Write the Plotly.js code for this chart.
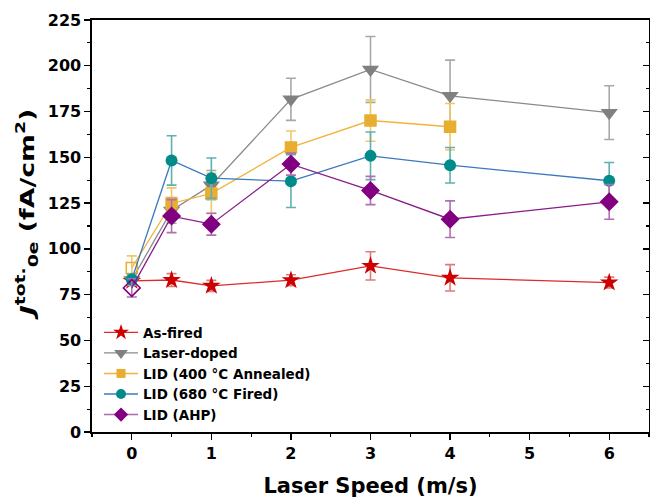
<!DOCTYPE html>
<html>
<head>
<meta charset="utf-8">
<script src="https://cdn.plot.ly/plotly-3.0.1.min.js"></script>
<style>html,body{margin:0;padding:0;background:#fff;}#chart{width:650px;height:498px;}</style>
</head>
<body>
<div id="chart"></div>
<script>
// Laser speed (m/s)
const speeds = [0, 0.5, 1, 2, 3, 4, 6];
// J0e tot. (fA/cm2) per series, and error bars
const asFired      = [82.5, 83.0, 79.8, 82.9, 90.7, 84.2, 81.6];
const asFiredErr   = [2.0, 3.5, 3.0, 3.0, 7.7, 7.2, 3.0];
const laserDoped   = [83.0, 121.0, 134.8, 181.7, 198.0, 183.6, 174.4];
const laserDopedErr= [3.0, 7.0, 8.0, 11.5, 18.0, 19.5, 14.7];
const lid400       = [89.6, 124.8, 130.3, 155.4, 170.1, 166.7, null];
const lid400Err    = [6.6, 8.5, 11.0, 9.0, 11.3, 12.7, null];
const lid680       = [83.3, 148.3, 138.6, 137.0, 150.8, 145.7, 137.2];
const lid680Err    = [3.0, 13.5, 11.0, 14.4, 13.0, 9.7, 10.0];
const lidAHP       = [78.7, 117.9, 113.5, 146.3, 131.9, 116.2, 125.7];
const lidAHPErr    = [5.0, 9.0, 6.0, 6.0, 7.7, 10.0, 9.5];
const seriesNames  = ["As-fired", "Laser-doped", "LID (400 °C Annealed)", "LID (680 °C Fired)", "LID (AHP)"];

const FONT = "DejaVu Sans";

const styles = [
  {line: '#dd2a2a', marker: '#cc0000', err: '#e07a7a', symbol: 'star', size: 14, legSize: 12, first: null},
  {line: '#8a8a8a', marker: '#808080', err: '#a8a8a8', symbol: 'triangle-down', size: 15, legSize: 12, first: null},
  {line: '#f0b43c', marker: '#e8ae30', err: '#f0c868', symbol: 'square', size: 11, legSize: 9, first: 'square-open'},
  {line: '#3a78c0', marker: '#008b8b', err: '#5fb0b0', symbol: 'circle', size: 12, legSize: 10, first: null},
  {line: '#b068b0', marker: '#800080', err: '#b070b0', symbol: 'diamond', size: 13, legSize: 11, first: 'diamond-open'}
];
const lineColors = ['#dd2a2a', '#8a8a8a', '#f0b43c', '#3a78c0', '#8a1a8a'];
const ys = [asFired, laserDoped, lid400, lid680, lidAHP];
const errs = [asFiredErr, laserDopedErr, lid400Err, lid680Err, lidAHPErr];

const traces = [];
ys.forEach((y, k) => {
  const s = styles[k];
  const syms = y.map((v, i) => (i === 0 && s.first) ? s.first : s.symbol);
  traces.push({
    type: 'scatter', mode: 'lines+markers', name: seriesNames[k], showlegend: false,
    x: speeds, y: y,
    line: {color: lineColors[k], width: 1.3},
    marker: {symbol: syms, size: s.size, color: s.marker, line: {width: s.first ? 1.5 : 0, color: s.marker}},
    error_y: {type: 'data', array: errs[k], visible: true, color: s.err, thickness: 1.6, width: 5},
    cliponaxis: false, hoverinfo: 'skip'
  });
});
// legend entries (line + marker samples)
ys.forEach((y, k) => {
  const s = styles[k];
  traces.push({
    type: 'scatter', mode: 'lines+markers', name: seriesNames[k], showlegend: true,
    x: [null], y: [null],
    line: {color: s.line, width: 1.4},
    marker: {symbol: s.symbol, size: s.legSize, color: s.marker},
    hoverinfo: 'skip'
  });
});
traces.push({type: 'scatter', mode: 'markers', x: [null], y: [null], yaxis: 'y2', showlegend: false, hoverinfo: 'skip'});

const layout = {
  width: 650, height: 498,
  margin: {l: 92, r: 1, t: 20, b: 66},
  paper_bgcolor: '#ffffff', plot_bgcolor: '#ffffff',
  font: {family: FONT, color: '#000'},
  showlegend: true,
  legend: {
    x: 0.0126, y: 0.279, xanchor: 'left', yanchor: 'top',
    bgcolor: 'rgba(0,0,0,0)', borderwidth: 0, itemwidth: 34,
    font: {family: FONT, size: 13.5, color: '#000', weight: 'bold'},
    traceorder: 'normal'
  },
  xaxis: {
    range: [-0.5, 6.5], dtick: 1, tick0: 0,
    showgrid: false, zeroline: false,
    showline: true, linecolor: '#000', linewidth: 1.6, mirror: true,
    ticks: 'outside', ticklen: 6, tickwidth: 1.4, tickcolor: '#000',
    minor: {dtick: 0.5, tick0: 0, ticks: 'outside', ticklen: 3, tickwidth: 1.2, tickcolor: '#000', showgrid: false},
    tickfont: {family: FONT, size: 16, weight: 'bold'},
    title: {text: 'Laser Speed (m/s)', font: {family: FONT, size: 21, weight: 'bold'}, standoff: 16}
  },
  yaxis: {
    range: [0, 225], dtick: 25, tick0: 0,
    showgrid: false, zeroline: false,
    showline: true, linecolor: '#000', linewidth: 1.6, mirror: true,
    ticks: 'outside', ticklen: 6, tickwidth: 1.4, tickcolor: '#000',
    minor: {dtick: 12.5, tick0: 0, ticks: 'outside', ticklen: 3, tickwidth: 1.2, tickcolor: '#000', showgrid: false},
    tickfont: {family: FONT, size: 16, weight: 'bold'},
    title: {text: '<i>J</i><sup>tot.</sup><sub>0e</sub> (fA/cm<sup>2</sup>)', font: {family: FONT, size: 20, weight: 'bold'}, standoff: 8}
  },
  yaxis2: {
    overlaying: 'y', side: 'right', range: [0, 225], dtick: 25, tick0: 0,
    showgrid: false, zeroline: false, showline: false, showticklabels: false,
    ticks: 'inside', ticklen: 6, tickwidth: 1.4, tickcolor: '#000',
    minor: {dtick: 12.5, tick0: 0, ticks: 'inside', ticklen: 3, tickwidth: 1.2, tickcolor: '#000', showgrid: false}
  }
};

Plotly.newPlot('chart', traces, layout, {displayModeBar: false, staticPlot: true}).then(() => {
  // stretch the y-axis title along its length, as in the reference
  const t = document.querySelector('#chart .ytitle');
  if (t) {
    const tr = t.getAttribute('transform') || '';
    const m = tr.match(/rotate\(\s*-90\s*,\s*([-\d.]+)\s*,\s*([-\d.]+)\s*\)/);
    if (m) {
      const cx = parseFloat(m[1]), cy = parseFloat(m[2]);
      t.setAttribute('transform', tr + ' translate(' + (cx + 14) + ',' + cy + ') scale(1.34,1) translate(' + (-cx) + ',' + (-cy) + ')');
    }
  }
  // make sure every legend entry shows its line sample
  const NS = 'http://www.w3.org/2000/svg';
  document.querySelectorAll('#chart .legend .traces').forEach((item, i) => {
    const s = styles[i];
    if (!s) return;
    let g = item.querySelector('.legendlines');
    const sym = item.querySelector('.legendsymbols');
    if (!g) {
      g = document.createElementNS(NS, 'g');
      g.setAttribute('class', 'legendlines');
      const layers = item.querySelector('.layers');
      if (layers && sym) layers.insertBefore(g, sym); else if (layers) layers.appendChild(g); else item.appendChild(g);
    }
    let p = g.querySelector('path');
    if (!p) {
      p = document.createElementNS(NS, 'path');
      g.appendChild(p);
    }
    p.setAttribute('d', 'M5,0h34');
    p.setAttribute('style', 'fill:none;stroke:' + s.line + ';stroke-opacity:1;stroke-width:1.4px;opacity:1;');
    g.setAttribute('style', 'opacity:1;');
  });
});
</script>
</body>
</html>
